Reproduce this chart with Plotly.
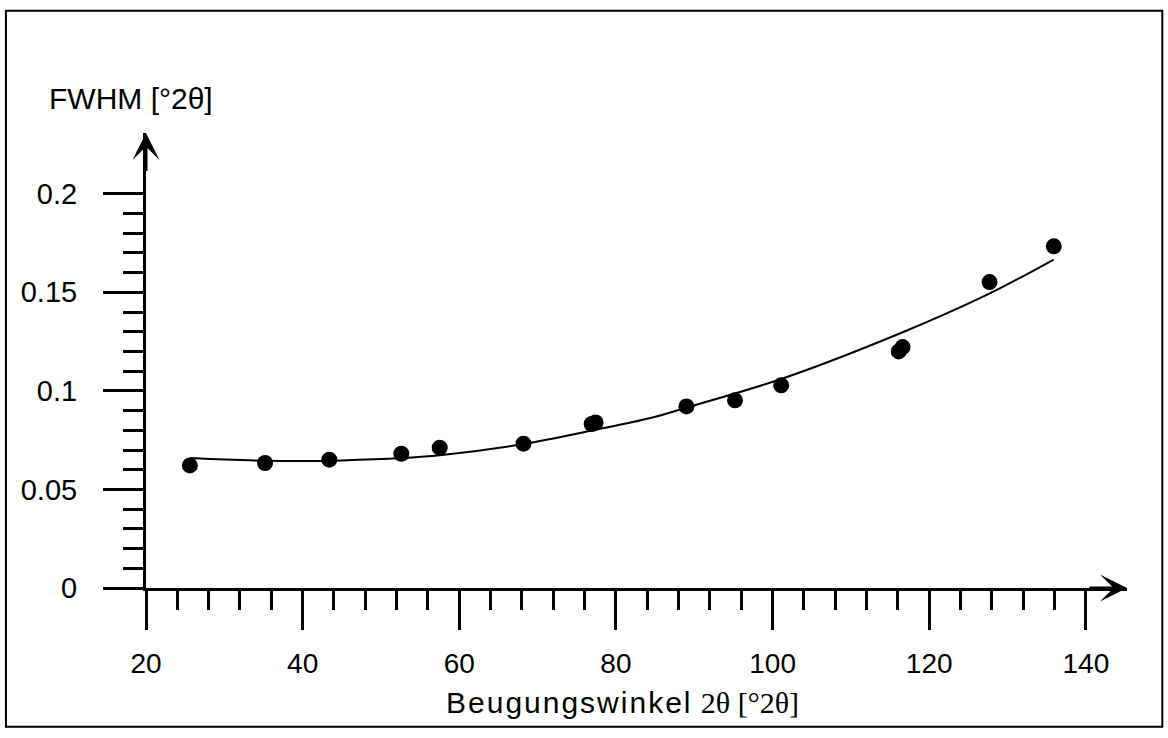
import plotly.graph_objects as go

# measured points
angle = [25.6, 35.2, 43.4, 52.6, 57.5, 68.2, 76.9, 77.4, 89.0, 95.2, 101.1, 116.1, 116.6, 127.7, 135.9]
fwhm = [0.0622, 0.0634, 0.0651, 0.0681, 0.0712, 0.0732, 0.0832, 0.0840, 0.0921, 0.0952, 0.1028, 0.1200, 0.1222, 0.1552, 0.1733]

# fitted curve
fit_x = [25.6, 30, 35, 40, 45, 52.7, 57.5, 68.2, 77.1, 84.4, 89.0, 101.1, 116.3, 127.4, 135.9]
fit_y = [0.0660, 0.0652, 0.0646, 0.0644, 0.0647, 0.0659, 0.0673, 0.0730, 0.0800, 0.0862, 0.0915, 0.1060, 0.1292, 0.1488, 0.1666]

x_ticks = [20, 40, 60, 80, 100, 120, 140]
y_ticks = [0, 0.05, 0.1, 0.15, 0.2]
y_ticktext = ["0", "0.05", "0.1", "0.15", "0.2"]

x_minor = [v for v in range(24, 140, 4) if v % 20]
y_minor = [round(i * 0.01, 2) for i in range(1, 20) if i % 5]

X_MAX = 145.25
Y_MAX = 0.2308

fig = go.Figure()
fig.add_trace(go.Scatter(x=fit_x, y=fit_y, mode="lines",
                         line=dict(color="black", width=2, shape="spline", smoothing=1.0),
                         hoverinfo="skip", showlegend=False))
fig.add_trace(go.Scatter(x=angle, y=fwhm, mode="markers",
                         marker=dict(color="black", size=16), showlegend=False))

axis_font = dict(family="Liberation Sans, Arial, sans-serif", size=28, color="black")

fig.update_xaxes(range=[20, X_MAX], showgrid=False, zeroline=False,
                 showline=True, linecolor="black", linewidth=3,
                 tickmode="array", tickvals=x_ticks, ticktext=[str(v) for v in x_ticks],
                 ticks="outside", ticklen=39, tickwidth=3, tickcolor="black",
                 ticklabelstandoff=9, tickfont=axis_font,
                 minor=dict(tickmode="array", tickvals=x_minor, ticks="outside",
                            ticklen=19, tickwidth=3, tickcolor="black", showgrid=False))
fig.update_yaxes(range=[0, Y_MAX], showgrid=False, zeroline=False,
                 showline=True, linecolor="black", linewidth=3,
                 tickmode="array", tickvals=y_ticks, ticktext=y_ticktext,
                 ticks="outside", ticklen=40, tickwidth=3, tickcolor="black",
                 ticklabelstandoff=20, tickfont=dict(axis_font, size=29),
                 minor=dict(tickmode="array", tickvals=y_minor, ticks="outside",
                            ticklen=20, tickwidth=3, tickcolor="black", showgrid=False))

# axis arrowheads
fig.add_annotation(x=X_MAX, y=0, ax=X_MAX - 5, ay=0, xref="x", yref="y", axref="x", ayref="y",
                   text="", showarrow=True, arrowhead=3, arrowwidth=3, arrowsize=1.5, arrowcolor="black")
fig.add_annotation(x=20, y=Y_MAX, ax=20, ay=Y_MAX - 0.02, xref="x", yref="y", axref="x", ayref="y",
                   text="", showarrow=True, arrowhead=3, arrowwidth=3, arrowsize=1.5, arrowcolor="black")

# axis titles
fig.add_annotation(x=-0.0148, y=1.0754, xref="paper", yref="paper", xanchor="center", yanchor="middle",
                   text="FWHM [°2θ]", showarrow=False,
                   font=dict(family="Liberation Sans, Arial, sans-serif", size=30, color="black"))
fig.add_annotation(x=0.4854, y=-0.252, xref="paper", yref="paper", xanchor="center", yanchor="middle",
                   text="<span style='letter-spacing:2px'>Beugungswinkel</span> "
                        "<span style='font-family:Liberation Serif'>2θ [°2θ]</span>",
                   showarrow=False,
                   font=dict(family="Liberation Sans, Arial, sans-serif", size=30, color="black"))

# outer frame
fig.add_shape(type="rect", xref="paper", yref="paper",
              x0=-0.1428, x1=1.036, y0=-0.3048, y1=1.2688,
              line=dict(color="black", width=2))

fig.update_layout(width=1168, height=738, autosize=False,
                  margin=dict(l=146, r=41.3, t=133.3, b=149.7),
                  plot_bgcolor="white", paper_bgcolor="white")

fig.write_html("out.html")
